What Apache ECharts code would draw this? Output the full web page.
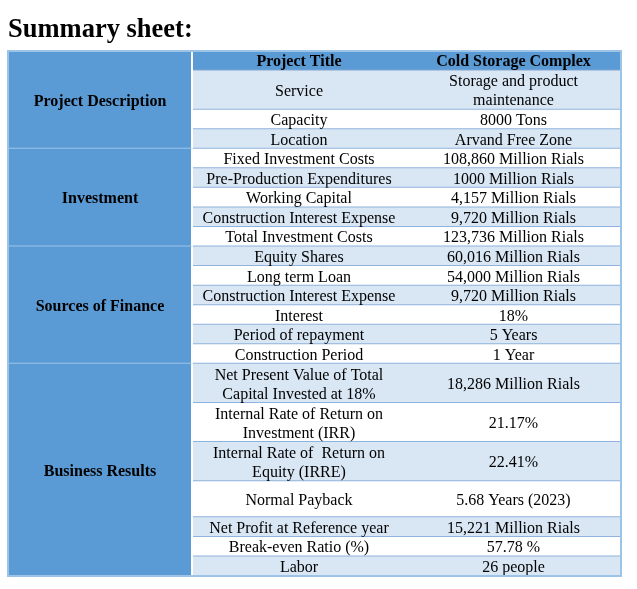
<!DOCTYPE html>
<html>
<head>
<meta charset="utf-8">
<script src="https://cdn.jsdelivr.net/npm/echarts@6/dist/echarts.min.js"></script>
<style>
html,body{margin:0;padding:0;background:#fff;}
#chart{width:637px;height:589px;}
</style>
</head>
<body>
<div id="chart"></div>
<script>
// ---- data ----
const titleText = 'Summary sheet:';
const headerLabel = 'Project Title';
const headerValue = 'Cold Storage Complex';
const groups = ['Project Description', 'Investment', 'Sources of Finance', 'Business Results'];
const groupSizes = [3, 5, 6, 7];
const itemLabels = [
  'Service', 'Capacity', 'Location',
  'Fixed Investment Costs', 'Pre-Production Expenditures', 'Working Capital', 'Construction Interest Expense', 'Total Investment Costs',
  'Equity Shares', 'Long term Loan', 'Construction Interest Expense', 'Interest', 'Period of repayment', 'Construction Period',
  'Net Present Value of Total\nCapital Invested at 18%', 'Internal Rate of Return on\nInvestment (IRR)', 'Internal Rate of  Return on\nEquity (IRRE)', 'Normal Payback', 'Net Profit at Reference year', 'Break-even Ratio (%)', 'Labor'
];
const itemValues = [
  'Storage and product\nmaintenance', '8000 Tons', 'Arvand Free Zone',
  '108,860 Million Rials', '1000 Million Rials', '4,157 Million Rials', '9,720 Million Rials', '123,736 Million Rials',
  '60,016 Million Rials', '54,000 Million Rials', '9,720 Million Rials', '18%', '5 Years', '1 Year',
  '18,286 Million Rials', '21.17%', '22.41%', '5.68 Years (2023)', '15,221 Million Rials', '57.78 %', '26 people'
];

// ---- layout (not data) ----
const rowUnits = [1, 2, 1, 1, 1, 1, 1, 1, 1, 1, 1, 1, 1, 1, 1, 2, 2, 2, 1.85, 1, 1, 1]; // header + items
const colEdges = [0, 184, 398, 613];
const FONT = '"Liberation Serif","Times New Roman",serif';
const FS = 16;
const BLUE = '#5b9bd5', LIGHT = '#d9e6f4', LINE = '#8fb3dc', OUTER = '#9dc3e6';

const rowStarts = [];
let acc = 0;
rowUnits.forEach(u => { rowStarts.push(acc); acc += u; });
const totalUnits = acc;

const rowData = rowUnits.map((u, i) => [rowStarts[i], rowStarts[i] + u]);
const groupData = [];
let r = 0;
groupSizes.forEach((n, g) => {
  const first = g === 0 ? 0 : r + 1;
  const last = r + n;
  groupData.push([rowStarts[first], rowStarts[last] + rowUnits[last]]);
  r += n;
});

const chart = echarts.init(document.getElementById('chart'), null, { renderer: 'canvas' });

function rowRender(params, api) {
  const i = params.dataIndex;
  const y0 = api.coord([0, api.value(0)])[1];
  const y1 = api.coord([0, api.value(1)])[1];
  const xa = api.coord([colEdges[1], 0])[0];
  const xb = api.coord([colEdges[2], 0])[0];
  const xc = api.coord([colEdges[3], 0])[0];
  const fill = i === 0 ? BLUE : (i % 2 === 1 ? LIGHT : '#ffffff');
  const bold = i === 0 ? 'bold ' : '';
  const label = i === 0 ? headerLabel : itemLabels[i - 1];
  const value = i === 0 ? headerValue : itemValues[i - 1];
  return {
    type: 'group',
    children: [
      { type: 'rect', shape: { x: xa, y: y0, width: xc - xa, height: y1 - y0 }, style: { fill: fill } },
      { type: 'line', shape: { x1: xa, y1: y1, x2: xc, y2: y1 }, style: { stroke: i === 0 ? '#7ea6d4' : LINE, lineWidth: 2 } },
      { type: 'text', style: { text: label, x: (xa + xb) / 2, y: (y0 + y1) / 2 + 1.5, align: 'center', verticalAlign: 'middle', font: bold + FS + 'px ' + FONT, fill: '#000', lineHeight: 19 } },
      { type: 'text', style: { text: value, x: (xb + xc) / 2, y: (y0 + y1) / 2 + 1.5, align: 'center', verticalAlign: 'middle', font: bold + FS + 'px ' + FONT, fill: '#000', lineHeight: 19 } }
    ]
  };
}

function groupRender(params, api) {
  const g = params.dataIndex;
  const y0 = api.coord([0, api.value(0)])[1];
  const y1 = api.coord([0, api.value(1)])[1];
  const x0 = api.coord([colEdges[0], 0])[0];
  const xa = api.coord([colEdges[1], 0])[0];
  return {
    type: 'group',
    children: [
      { type: 'rect', shape: { x: x0, y: y0, width: xa - x0, height: y1 - y0 }, style: { fill: BLUE } },
      { type: 'line', shape: { x1: x0, y1: y1, x2: xa, y2: y1 }, style: { stroke: OUTER, lineWidth: 2 } },
      { type: 'line', shape: { x1: xa, y1: y0, x2: xa, y2: y1 }, style: { stroke: '#ffffff', lineWidth: 2 } },
      { type: 'text', style: { text: groups[g], x: (x0 + xa) / 2, y: (y0 + y1) / 2 + 1.5, align: 'center', verticalAlign: 'middle', font: 'bold ' + FS + 'px ' + FONT, fill: '#000' } }
    ]
  };
}

function borderRender(params, api) {
  const p0 = api.coord([colEdges[0], 0]);
  const p1 = api.coord([colEdges[3], totalUnits]);
  return {
    type: 'rect',
    shape: { x: p0[0], y: p0[1], width: p1[0] - p0[0], height: p1[1] - p0[1] },
    style: { fill: null, stroke: OUTER, lineWidth: 2 }
  };
}

chart.setOption({
  animation: false,
  title: {
    text: titleText, left: 8, top: 17, padding: 0,
    textStyle: { fontFamily: FONT, fontSize: 26.5, fontWeight: 'bold', color: '#000' }
  },
  grid: { left: 8, top: 51, width: 613, height: 525 },
  xAxis: { type: 'value', min: 0, max: colEdges[3], show: false },
  yAxis: { type: 'value', min: 0, max: totalUnits, inverse: true, show: false },
  series: [
    { type: 'custom', renderItem: rowRender, data: rowData, silent: true },
    { type: 'custom', renderItem: groupRender, data: groupData, silent: true },
    { type: 'custom', renderItem: borderRender, data: [[0, 0]], silent: true }
  ]
});
</script>
</body>
</html>
